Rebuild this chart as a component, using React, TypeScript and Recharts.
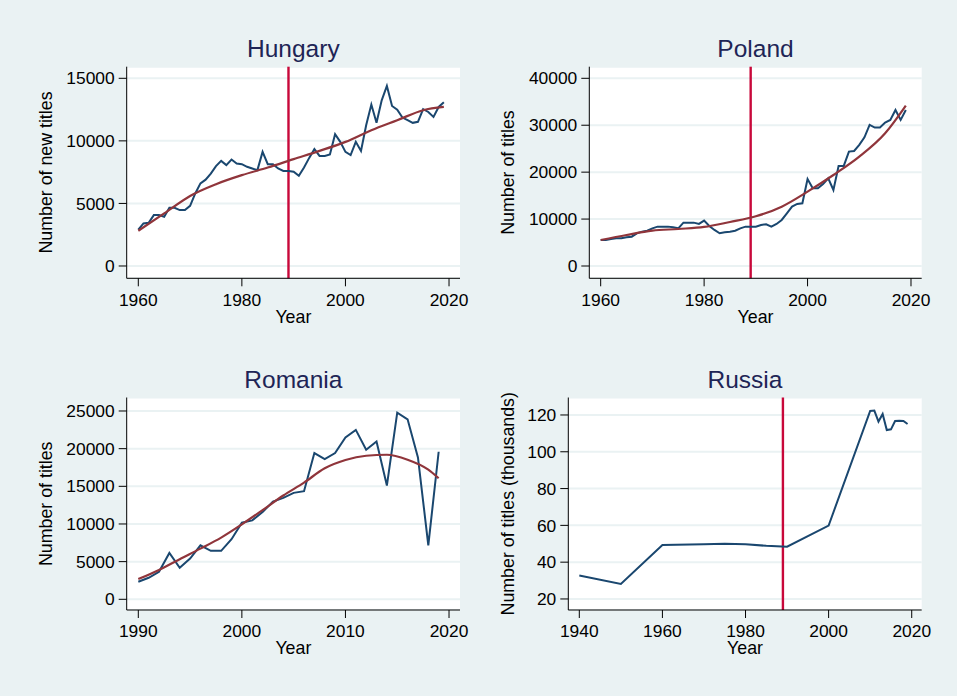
import React from 'react';
import { LineChart, Line, XAxis, YAxis, CartesianGrid, ReferenceLine } from 'recharts';

// yearly counts
const hungaryYears = [
  1960, 1961, 1962, 1963, 1964, 1965, 1966, 1967, 1968, 1969,
  1970, 1971, 1972, 1973, 1974, 1975, 1976, 1977, 1978, 1979,
  1980, 1981, 1982, 1983, 1984, 1985, 1986, 1987, 1988, 1989,
  1990, 1991, 1992, 1993, 1994, 1995, 1996, 1997, 1998, 1999,
  2000, 2001, 2002, 2003, 2004, 2005, 2006, 2007, 2008, 2009,
  2010, 2011, 2012, 2013, 2014, 2015, 2016, 2017, 2018, 2019,
];
const hungaryTitles = [
  2900, 3400, 3450, 4070, 4070, 3940, 4650, 4650, 4470, 4470,
  4810, 5800, 6600, 6900, 7390, 7980, 8400, 8060, 8510, 8190,
  8140, 7930, 7790, 7660, 9120, 8140, 8140, 7790, 7600, 7600,
  7530, 7210, 7870, 8640, 9340, 8800, 8800, 8910, 10530, 9920,
  9120, 8860, 9920, 9200, 11250, 12900, 11440, 13240, 14390, 12790,
  12500, 11860, 11650, 11440, 11520, 12530, 12310, 11910, 12710, 13090,
];
const hungaryFitYears = [1960, 1965, 1970, 1975, 1980, 1985, 1990, 1995, 2000, 2005, 2010, 2015, 2019];
const hungaryFit = [2820, 4200, 5600, 6540, 7260, 7870, 8540, 9200, 9920, 10850, 11650, 12450, 12710];

const polandYears = hungaryYears;
const polandTitles = [
  5540, 5540, 5760, 5900, 5900, 6110, 6250, 6970, 7320, 7530,
  8030, 8390, 8390, 8390, 8240, 8030, 9240, 9240, 9240, 8960,
  9670, 8530, 7680, 6970, 7180, 7320, 7530, 8030, 8390, 8390,
  8390, 8740, 8880, 8390, 8960, 9810, 11230, 12650, 13220, 13360,
  18550, 16560, 16560, 17480, 18690, 16200, 21320, 21320, 24380, 24520,
  25800, 27430, 30060, 29500, 29500, 30560, 31130, 33260, 31130, 33260,
];
const polandFitYears = [1960, 1965, 1970, 1975, 1980, 1985, 1990, 1995, 2000, 2005, 2010, 2015, 2019];
const polandFit = [5540, 6600, 7530, 7890, 8320, 9380, 10590, 12650, 15850, 19400, 23310, 28290, 34190];

const romaniaYears = [
  1990, 1991, 1992, 1993, 1994, 1995, 1996, 1997, 1998, 1999,
  2000, 2001, 2002, 2003, 2004, 2005, 2006, 2007, 2008, 2009,
  2010, 2011, 2012, 2013, 2014, 2015, 2016, 2017, 2018, 2019,
];
const romaniaTitles = [
  2330, 2860, 3650, 6160, 4180, 5410, 7170, 6430, 6430, 7970,
  10170, 10480, 11580, 12980, 13470, 14130, 14350, 19410, 18620, 19410,
  21480, 22490, 19850, 20950, 15100, 24780, 23900, 18840, 7170, 19590,
];
const romaniaFitYears = [1990, 1992, 1994, 1996, 1998, 2000, 2002, 2004, 2006, 2008, 2010, 2012, 2014, 2016, 2018, 2019];
const romaniaFit = [2680, 3900, 5330, 6730, 8190, 9950, 11840, 13780, 15490, 17390, 18490, 19060, 19190, 18530, 17210, 16070];

// thousands
const russiaYears = [1940, 1950, 1960, 1970, 1975, 1980, 1985, 1990, 2000, 2010, 2011, 2012, 2013, 2014, 2015, 2016, 2017, 2018, 2019];
const russiaTitles = [32.7, 28.2, 49.3, 49.7, 50.0, 49.7, 48.9, 48.4, 59.9, 122.2, 122.4, 116.4, 120.5, 111.8, 112.2, 116.7, 116.9, 116.7, 115.1];

const hungaryYTicks = [0, 5000, 10000, 15000];
const polandYTicks = [0, 10000, 20000, 30000, 40000];
const romaniaYTicks = [0, 5000, 10000, 15000, 20000, 25000];
const russiaYTicks = [20, 40, 60, 80, 100, 120];
const xTicks1960 = [1960, 1980, 2000, 2020];
const xTicks1990 = [1990, 2000, 2010, 2020];
const xTicks1940 = [1940, 1960, 1980, 2000, 2020];

const toRows = (xs: number[], ys: number[]) => xs.map((year, i) => ({ year, value: ys[i] }));

const BG = '#eaf2f3';
const BLUE = '#1a476f';
const MAROON = '#90353b';
const CRIMSON = '#c8083a';
const FONT = '"Liberation Sans", Arial, sans-serif';

const panels = [
  {
    title: 'Hungary', yTitle: 'Number of new titles',
    box: { x: 0, y: 0, w: 478, h: 348 }, plot: { l: 126.7, r: 460, t: 66.7, b: 278.3 }, yTitleGap: 75,
    xDomain: [1957.76, 2022.12], xTicks: xTicks1960, yDomain: [-983, 15927], yTicks: hungaryYTicks,
    raw: toRows(hungaryYears, hungaryTitles), fit: toRows(hungaryFitYears, hungaryFit), line: true,
  },
  {
    title: 'Poland', yTitle: 'Number of titles',
    box: { x: 478, y: 0, w: 479, h: 348 }, plot: { l: 589.3, r: 921.7, t: 66.7, b: 278.3 }, yTitleGap: 75,
    xDomain: [1957.8, 2022.07], xTicks: xTicks1960, yDomain: [-2621, 42472], yTicks: polandYTicks,
    raw: toRows(polandYears, polandTitles), fit: toRows(polandFitYears, polandFit), line: true,
  },
  {
    title: 'Romania', yTitle: 'Number of titles',
    box: { x: 0, y: 348, w: 478, h: 348 }, plot: { l: 126.7, r: 460, t: 397.5, b: 610 }, yTitleGap: 75,
    xDomain: [1988.88, 2021.06], xTicks: xTicks1990, yDomain: [-1421, 26792], yTicks: romaniaYTicks,
    raw: toRows(romaniaYears, romaniaTitles), fit: toRows(romaniaFitYears, romaniaFit), line: false,
  },
  {
    title: 'Russia', yTitle: 'Number of titles (thousands)',
    box: { x: 478, y: 348, w: 479, h: 348 }, plot: { l: 568.3, r: 921.7, t: 397.5, b: 610 }, yTitleGap: 54.3,
    xDomain: [1937.35, 2022.4], xTicks: xTicks1940, yDomain: [14.0, 129.5], yTicks: russiaYTicks,
    raw: toRows(russiaYears, russiaTitles), fit: null, line: true,
  },
];

const tickStyle = { fontSize: 17.4, fill: '#000', fontFamily: FONT };

function Panel({ p }: { p: any }) {
  const { box, plot } = p;
  return (
    <div style={{ position: 'absolute', left: box.x, top: box.y }}>
      <LineChart
        width={box.w}
        height={box.h}
        margin={{ top: plot.t - box.y, right: box.x + box.w - plot.r, left: 0, bottom: 0 }}
      >
        <CartesianGrid vertical={false} stroke={BG} strokeWidth={2} fill="#ffffff" fillOpacity={1} />
        <XAxis
          dataKey="year" type="number" domain={p.xDomain} ticks={p.xTicks} allowDataOverflow
          height={box.y + box.h - plot.b} tick={tickStyle} tickSize={8} tickMargin={7}
          stroke="#000" axisLine={{ stroke: '#000' }} tickLine={{ stroke: '#000' }}
        />
        <YAxis
          type="number" domain={p.yDomain} ticks={p.yTicks} allowDataOverflow
          width={plot.l - box.x} tick={tickStyle} tickSize={8} tickMargin={4}
          stroke="#000" axisLine={{ stroke: '#000' }} tickLine={{ stroke: '#000' }}
        />
        {p.line && <ReferenceLine x={1989} stroke={CRIMSON} strokeWidth={2.4} />}
        <Line data={p.raw} dataKey="value" type="linear" stroke={BLUE} strokeWidth={2}
          dot={false} isAnimationActive={false} />
        {p.fit && (
          <Line data={p.fit} dataKey="value" type="monotone" stroke={MAROON} strokeWidth={2.2}
            dot={false} isAnimationActive={false} />
        )}
      </LineChart>
    </div>
  );
}

export default function App() {
  return (
    <div style={{ position: 'absolute', left: 0, top: 0, width: 957, height: 696, background: BG, overflow: 'hidden' }}>
      {panels.map((p) => <Panel key={p.title} p={p} />)}
      <svg width={957} height={696} style={{ position: 'absolute', left: 0, top: 0, pointerEvents: 'none' }}
        fontFamily={FONT}>
        {panels.map((p) => {
          const cx = (p.plot.l + p.plot.r) / 2;
          const cy = (p.plot.t + p.plot.b) / 2;
          const yx = p.plot.l - p.yTitleGap;
          return (
            <g key={p.title}>
              <text x={cx} y={p.plot.t - 9.4} textAnchor="middle" fontSize={24.5} fill="#1e2556">{p.title}</text>
              <text x={cx} y={p.plot.b + 44.4} textAnchor="middle" fontSize={17.8} fill="#000">Year</text>
              <text x={yx} y={cy} textAnchor="middle" fontSize={17.8} fill="#000"
                transform={`rotate(-90 ${yx} ${cy})`}>{p.yTitle}</text>
            </g>
          );
        })}
      </svg>
    </div>
  );
}
